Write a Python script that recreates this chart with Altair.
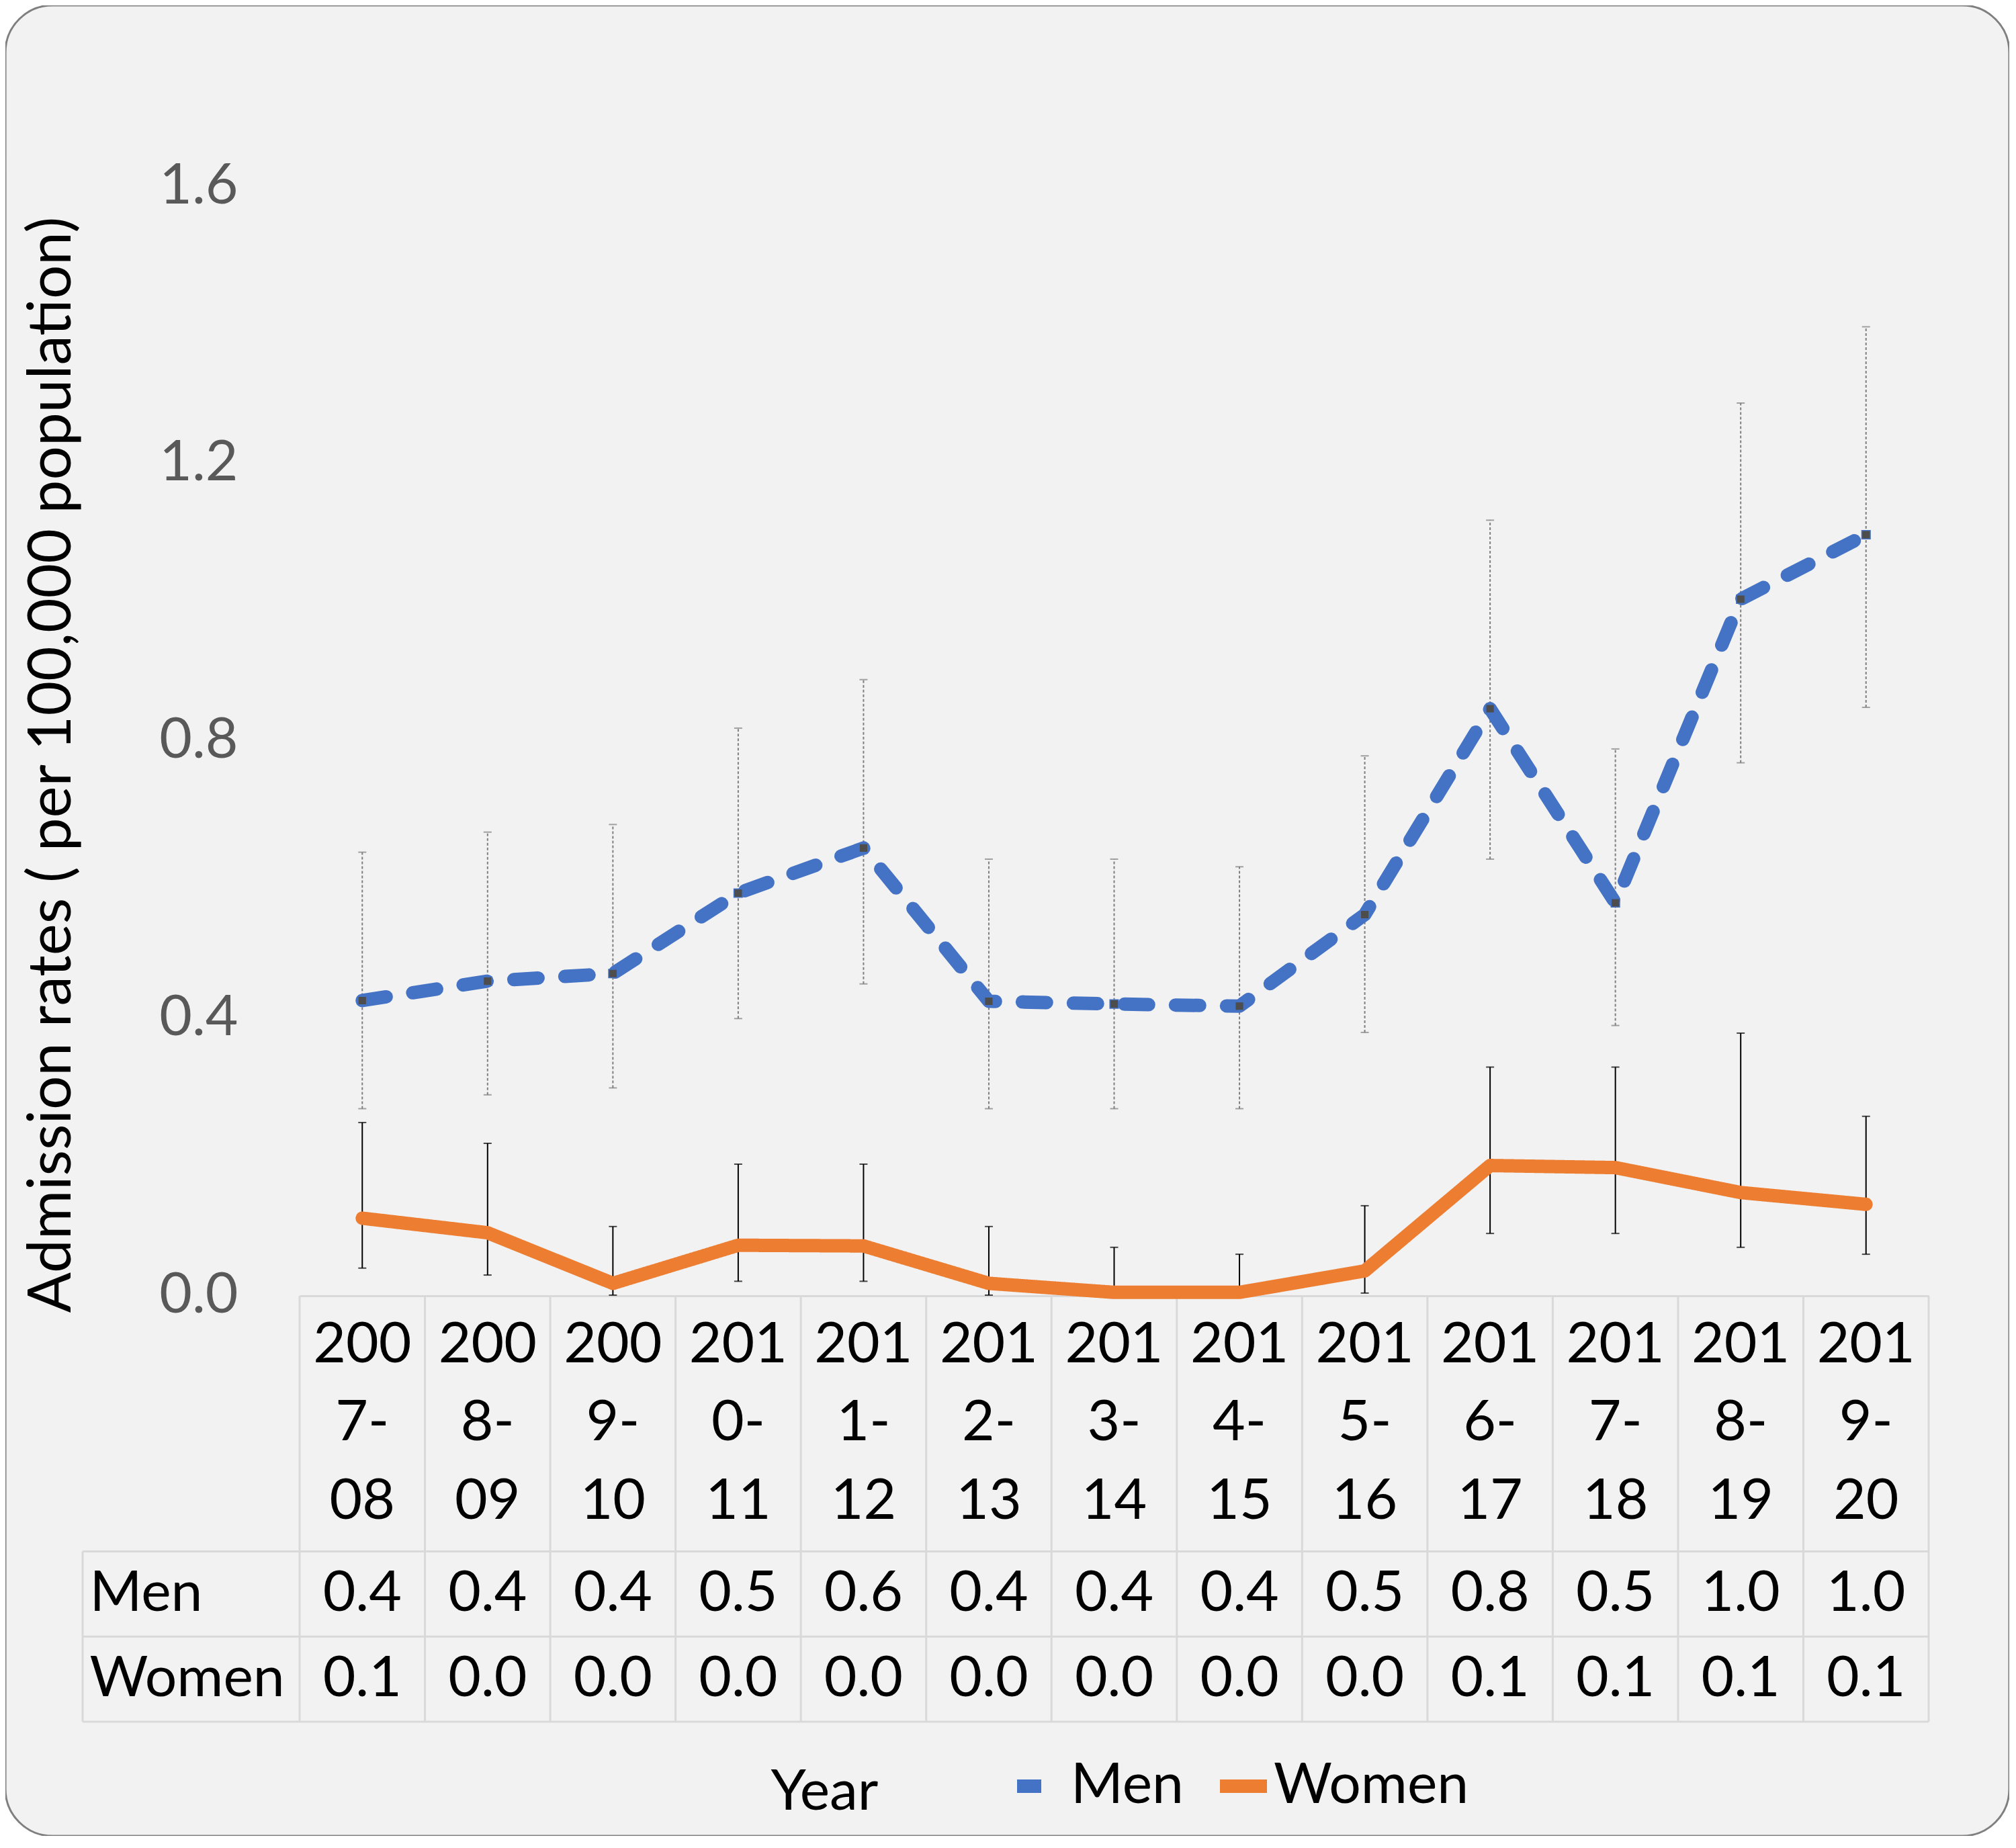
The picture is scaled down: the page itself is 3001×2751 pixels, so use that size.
import altair as alt
import pandas as pd

# ---------------- data ----------------
years = ["2007-08", "2008-09", "2009-10", "2010-11", "2011-12", "2012-13", "2013-14",
         "2014-15", "2015-16", "2016-17", "2017-18", "2018-19", "2019-20"]
men = [0.425, 0.453, 0.464, 0.580, 0.645, 0.424, 0.420, 0.417, 0.549, 0.846, 0.566, 1.004, 1.097]
men_lo = [0.269, 0.289, 0.299, 0.399, 0.449, 0.269, 0.269, 0.269, 0.379, 0.629, 0.389, 0.768, 0.848]
men_hi = [0.639, 0.668, 0.679, 0.818, 0.888, 0.629, 0.629, 0.618, 0.778, 1.118, 0.788, 1.287, 1.397]
women = [0.111, 0.090, 0.017, 0.072, 0.071, 0.017, 0.004, 0.004, 0.035, 0.187, 0.184, 0.148, 0.131]
women_lo = [0.039, 0.029, 0.0, 0.020, 0.020, 0.0, 0.0, 0.0, 0.003, 0.089, 0.089, 0.069, 0.059]
women_hi = [0.249, 0.219, 0.099, 0.189, 0.189, 0.099, 0.069, 0.059, 0.129, 0.329, 0.329, 0.378, 0.258]
men_table = [0.4, 0.4, 0.4, 0.5, 0.6, 0.4, 0.4, 0.4, 0.5, 0.8, 0.5, 1.0, 1.0]
women_table = [0.1, 0.0, 0.0, 0.0, 0.0, 0.0, 0.0, 0.0, 0.0, 0.1, 0.1, 0.1, 0.1]
series = ["Men", "Women"]
colors = ["#4472C4", "#ED7D31"]
y_ticks = [0.0, 0.4, 0.8, 1.2, 1.6]
y_title = "Admission rates ( per 100,000 population)"
x_title = "Year"

# ---------------- layout ----------------
W, H = 2983, 2725
X_RANGE = [438, 2863]
Y_RANGE = [1920, 269]
T_TOP, T_BOT = 1921, 2555
LABEL_COL_LEFT = 115
FONT = "Lato"
FS = 84

lines_df = pd.DataFrame({
    "year": years * 2,
    "series": [series[0]] * len(years) + [series[1]] * len(years),
    "value": men + women,
    "lo": men_lo + women_lo,
    "hi": men_hi + women_hi,
})
men_df = lines_df[lines_df.series == series[0]]
women_df = lines_df[lines_df.series == series[1]]

hdr_rows = []
for y in years:
    parts = [y[:3], y[3] + "-", y[5:]]
    for k, p in enumerate(parts):
        hdr_rows.append({"year": y, "tr": 1.5 + (k - 1) * 0.92, "txt": p})
for y, mv, wv in zip(years, men_table, women_table):
    hdr_rows.append({"year": y, "tr": 3.5, "txt": f"{mv:.1f}"})
    hdr_rows.append({"year": y, "tr": 4.5, "txt": f"{wv:.1f}"})
table_df = pd.DataFrame(hdr_rows)
years_df = pd.DataFrame({"year": years})
hlines_df = pd.DataFrame({"tr": [3, 4, 5]})
rowlab_df = pd.DataFrame({"tr": [3.5, 4.5]})

xsc = alt.Scale(type="band", domain=years, range=X_RANGE, paddingInner=0, paddingOuter=0)
ysc = alt.Scale(domain=[0, 1.6], range=Y_RANGE, nice=False)
tsc = alt.Scale(domain=[0, 5], range=[T_TOP, T_BOT], nice=False, zero=False)

x_axis = alt.Axis(labels=False, ticks=False, grid=False, domain=True,
                  domainColor="#d9d9d9", domainWidth=3, offset=-(H - T_TOP),
                  titleX=1219, titleY=739, titleAlign="center", titleBaseline="middle",
                  titleFontSize=FS, titleFontWeight="normal", titleColor="black", titleFont=FONT)


def X(band=0.5):
    return alt.X("year:N", scale=xsc, axis=x_axis, title=x_title, bandPosition=band)


Ynone = lambda f: alt.Y(f, scale=ysc, axis=None)

# error bars
men_err = alt.Chart(men_df).mark_rule(color="#7f7f7f", strokeWidth=2, strokeDash=[4, 3]).encode(
    x=X(), y=Ynone("lo:Q"), y2="hi:Q")
men_cap_lo = alt.Chart(men_df).mark_tick(color="#7f7f7f", size=12, thickness=2).encode(x=X(), y=Ynone("lo:Q"))
men_cap_hi = alt.Chart(men_df).mark_tick(color="#7f7f7f", size=12, thickness=2).encode(x=X(), y=Ynone("hi:Q"))
wom_err = alt.Chart(women_df).mark_rule(color="black", strokeWidth=2).encode(
    x=X(), y=Ynone("lo:Q"), y2="hi:Q")
wom_cap_lo = alt.Chart(women_df).mark_tick(color="black", size=12, thickness=2).encode(x=X(), y=Ynone("lo:Q"))
wom_cap_hi = alt.Chart(women_df).mark_tick(color="black", size=12, thickness=2).encode(x=X(), y=Ynone("hi:Q"))

# lines
lines = alt.Chart(lines_df).mark_line(strokeWidth=20, strokeCap="round", strokeJoin="round").encode(
    x=X(),
    y=alt.Y("value:Q", scale=ysc,
            axis=alt.Axis(orient="left", values=y_ticks, format=".1f", labelFontSize=FS,
                          labelColor="#595959", labelFont=FONT, domain=False, ticks=False,
                          tickSize=0, grid=False, labelPadding=0, offset=-346, title=y_title,
                          titleX=-277, titleY=1130, titleAngle=270, titleAlign="center",
                          titleBaseline="middle", titleFontSize=89, titleFontWeight="normal",
                          titleColor="black", titleFont=FONT)),
    color=alt.Color("series:N", scale=alt.Scale(domain=series, range=colors), title=None),
    strokeDash=alt.StrokeDash("series:N", scale=alt.Scale(domain=series, range=[[36, 40], [1, 0]]),
                              title=None),
    order=alt.Order("year:N"),
)
markers = alt.Chart(men_df).mark_square(size=160, fill="#4d4d4d", stroke="#4472C4", strokeWidth=1.5,
                                         opacity=1).encode(x=X(), y=Ynone("value:Q"))

# table grid
vgrid = alt.Chart(years_df).mark_rule(color="#d9d9d9", strokeWidth=3).encode(
    x=X(0), y=alt.Y(datum=0, scale=tsc, axis=None), y2=alt.Y2(datum=5))
vgrid_end = alt.Chart(years_df.tail(1)).mark_rule(color="#d9d9d9", strokeWidth=3).encode(
    x=X(1), y=alt.Y(datum=0, scale=tsc, axis=None), y2=alt.Y2(datum=5))
vgrid_lab = alt.Chart(years_df.head(1)).mark_rule(color="#d9d9d9", strokeWidth=3).encode(
    x=alt.value(LABEL_COL_LEFT), y=alt.Y(datum=3, scale=tsc, axis=None), y2=alt.Y2(datum=5))
hgrid = alt.Chart(hlines_df).mark_rule(color="#d9d9d9", strokeWidth=3).encode(
    y=alt.Y("tr:Q", scale=tsc, axis=None), x=alt.value(LABEL_COL_LEFT), x2=alt.value(X_RANGE[1]))

# table text
ttext = alt.Chart(table_df).mark_text(fontSize=FS, font=FONT, color="black", baseline="middle",
                                      align="center").encode(
    x=X(), y=alt.Y("tr:Q", scale=tsc, axis=None), text="txt:N")

rowlab = alt.Chart(rowlab_df).mark_point(opacity=0).encode(
    y=alt.Y("tr:Q", scale=tsc,
            axis=alt.Axis(orient="left", values=[3.5, 4.5],
                          labelExpr=f"datum.value < 4 ? '{series[0]}' : '{series[1]}'",
                          labelAlign="left", labelBaseline="middle", offset=-125, labelPadding=0,
                          ticks=False, tickSize=0, domain=False, grid=False, labelFontSize=FS,
                          labelColor="black", labelFont=FONT, labelLimit=0, title=None)))

chart = alt.layer(
    vgrid, vgrid_end, vgrid_lab, hgrid,
    men_err, men_cap_lo, men_cap_hi, wom_err, wom_cap_lo, wom_cap_hi,
    lines, markers, ttext, rowlab,
).resolve_scale(y="independent").properties(
    width=W, height=H, padding=0, background="white",
).configure_view(
    fill="#f2f2f2", stroke="#7f7f7f", strokeWidth=3, cornerRadius=70,
).configure_legend(
    orient="none", legendX=1496, legendY=2606, direction="horizontal",
    labelFontSize=FS, labelFont=FONT, labelColor="black", labelLimit=0, symbolType="stroke",
    symbolSize=70 * 70, symbolStrokeWidth=20, labelOffset=0, columnPadding=14, padding=0,
).configure_text(font=FONT)

chart.save("out.html", embed_options={"renderer": "svg", "actions": False})
